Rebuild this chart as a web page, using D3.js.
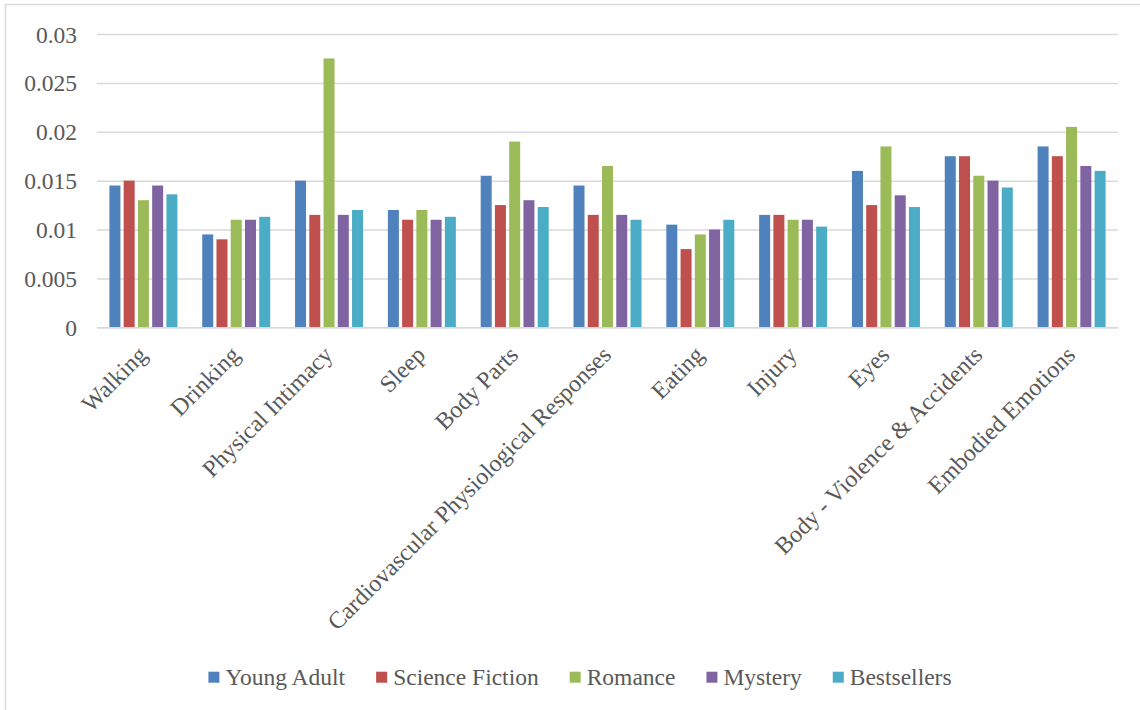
<!DOCTYPE html>
<html>
<head>
<meta charset="utf-8">
<script src="https://cdn.jsdelivr.net/npm/d3@7"></script>
<style>
  html, body { margin: 0; padding: 0; background: #fff; }
  svg { display: block; }
  text { font-family: "Liberation Serif", "Times New Roman", serif; fill: #595959; }
</style>
</head>
<body>
<svg id="chart" width="1140" height="710"></svg>
<script>
// Embodiment term frequencies by genre
const categories = [
  "Walking", "Drinking", "Physical Intimacy", "Sleep", "Body Parts",
  "Cardiovascular Physiological Responses", "Eating", "Injury", "Eyes",
  "Body - Violence & Accidents", "Embodied Emotions"
];
const seriesNames = ["Young Adult", "Science Fiction", "Romance", "Mystery", "Bestsellers"];
const youngAdult     = [0.0145, 0.0095, 0.0150, 0.0120, 0.0155, 0.0145, 0.0105, 0.0115, 0.0160, 0.0175, 0.0185];
const scienceFiction = [0.0150, 0.0090, 0.0115, 0.0110, 0.0125, 0.0115, 0.0080, 0.0115, 0.0125, 0.0175, 0.0175];
const romance        = [0.0130, 0.0110, 0.0275, 0.0120, 0.0190, 0.0165, 0.0095, 0.0110, 0.0185, 0.0155, 0.0205];
const mystery        = [0.0145, 0.0110, 0.0115, 0.0110, 0.0130, 0.0115, 0.0100, 0.0110, 0.0135, 0.0150, 0.0165];
const bestsellers    = [0.0136, 0.0113, 0.0120, 0.0113, 0.0123, 0.0110, 0.0110, 0.0103, 0.0123, 0.0143, 0.0160];
const yTicks = [0, 0.005, 0.01, 0.015, 0.02, 0.025, 0.03];
const yTickLabels = ["0", "0.005", "0.01", "0.015", "0.02", "0.025", "0.03"];

const seriesValues = [youngAdult, scienceFiction, romance, mystery, bestsellers];
const colors = ["#4F81BD", "#C0504D", "#9BBB59", "#8064A2", "#4BACC6"];
const serif = '"Liberation Serif", "Times New Roman", serif';

const svg = d3.select("#chart");

// chart frame (only the top and left edges fall inside the canvas)
svg.append("rect")
  .attr("x", 5.5).attr("y", 4.5)
  .attr("width", 1200).attr("height", 800)
  .attr("fill", "none").attr("stroke", "#D9D9D9").attr("stroke-width", 1.5);

const plot = { left: 97, right: 1118, top: 34, bottom: 327.3 };

const y = d3.scaleLinear().domain([0, 0.03]).range([plot.bottom, plot.top]);
const x0 = d3.scaleBand().domain(categories).range([plot.left, plot.right]).padding(0);
const groupWidth = 68;
const x1 = d3.scaleBand().domain(seriesNames).range([0, groupWidth]).paddingInner(0.228).paddingOuter(0);
const groupOffset = (x0.bandwidth() - groupWidth) / 2;

// gridlines and y labels
const yAxis = d3.axisLeft(y)
  .tickValues(yTicks)
  .tickFormat((d, i) => yTickLabels[i])
  .tickSize(-(plot.right - plot.left))
  .tickPadding(20);
const gy = svg.append("g")
  .attr("transform", `translate(${plot.left},0)`)
  .call(yAxis)
  .attr("font-family", serif)
  .attr("font-size", 23.5);
gy.select(".domain").remove();
gy.selectAll(".tick line").attr("stroke", "#D9D9D9").attr("stroke-width", 1.5);
gy.selectAll(".tick text")
  .attr("x", 77 - plot.left)
  .attr("dy", "0.34em")
  .style("font-family", serif)
  .style("font-size", "23.5px")
  .attr("fill", "#595959");

// bars
const groups = svg.append("g").selectAll("g")
  .data(categories)
  .join("g")
  .attr("transform", d => `translate(${x0(d) + groupOffset},0)`);

groups.selectAll("rect")
  .data((c, ci) => seriesNames.map((s, si) => ({ s, si, v: seriesValues[si][ci] })))
  .join("rect")
  .attr("x", d => x1(d.s))
  .attr("y", d => y(d.v))
  .attr("width", x1.bandwidth())
  .attr("height", d => y(0) - y(d.v))
  .attr("fill", d => colors[d.si]);

// category axis
const xAxis = d3.axisBottom(x0).tickSize(0).tickPadding(0);
const gx = svg.append("g")
  .attr("transform", `translate(0,${plot.bottom})`)
  .call(xAxis)
  .attr("font-family", serif)
  .attr("font-size", 24);
gx.select(".domain").attr("stroke", "#D9D9D9").attr("stroke-width", 1.5);
gx.selectAll(".tick text")
  .attr("x", 0).attr("y", 0).attr("dy", 0)
  .attr("text-anchor", "end")
  .attr("transform", "translate(5,29) rotate(-45)")
  .style("font-family", serif)
  .style("font-size", "24px")
  .attr("fill", "#595959");

// legend
const legend = svg.append("g");
const items = legend.selectAll("g")
  .data(seriesNames)
  .join("g");
items.append("rect")
  .attr("width", 11).attr("height", 11)
  .attr("y", 671.7)
  .attr("fill", (d, i) => colors[i]);
items.append("text")
  .attr("x", 17)
  .attr("y", 685)
  .style("font-family", serif)
  .style("font-size", "23.5px")
  .text(d => d);

let cursor = 0;
items.each(function () {
  const g = d3.select(this);
  const w = g.select("text").node().getComputedTextLength();
  g.attr("transform", `translate(${cursor},0)`);
  cursor += 17 + w + 31;
});
const legendWidth = cursor - 31;
legend.attr("transform", `translate(${580 - legendWidth / 2},0)`);
</script>
</body>
</html>
